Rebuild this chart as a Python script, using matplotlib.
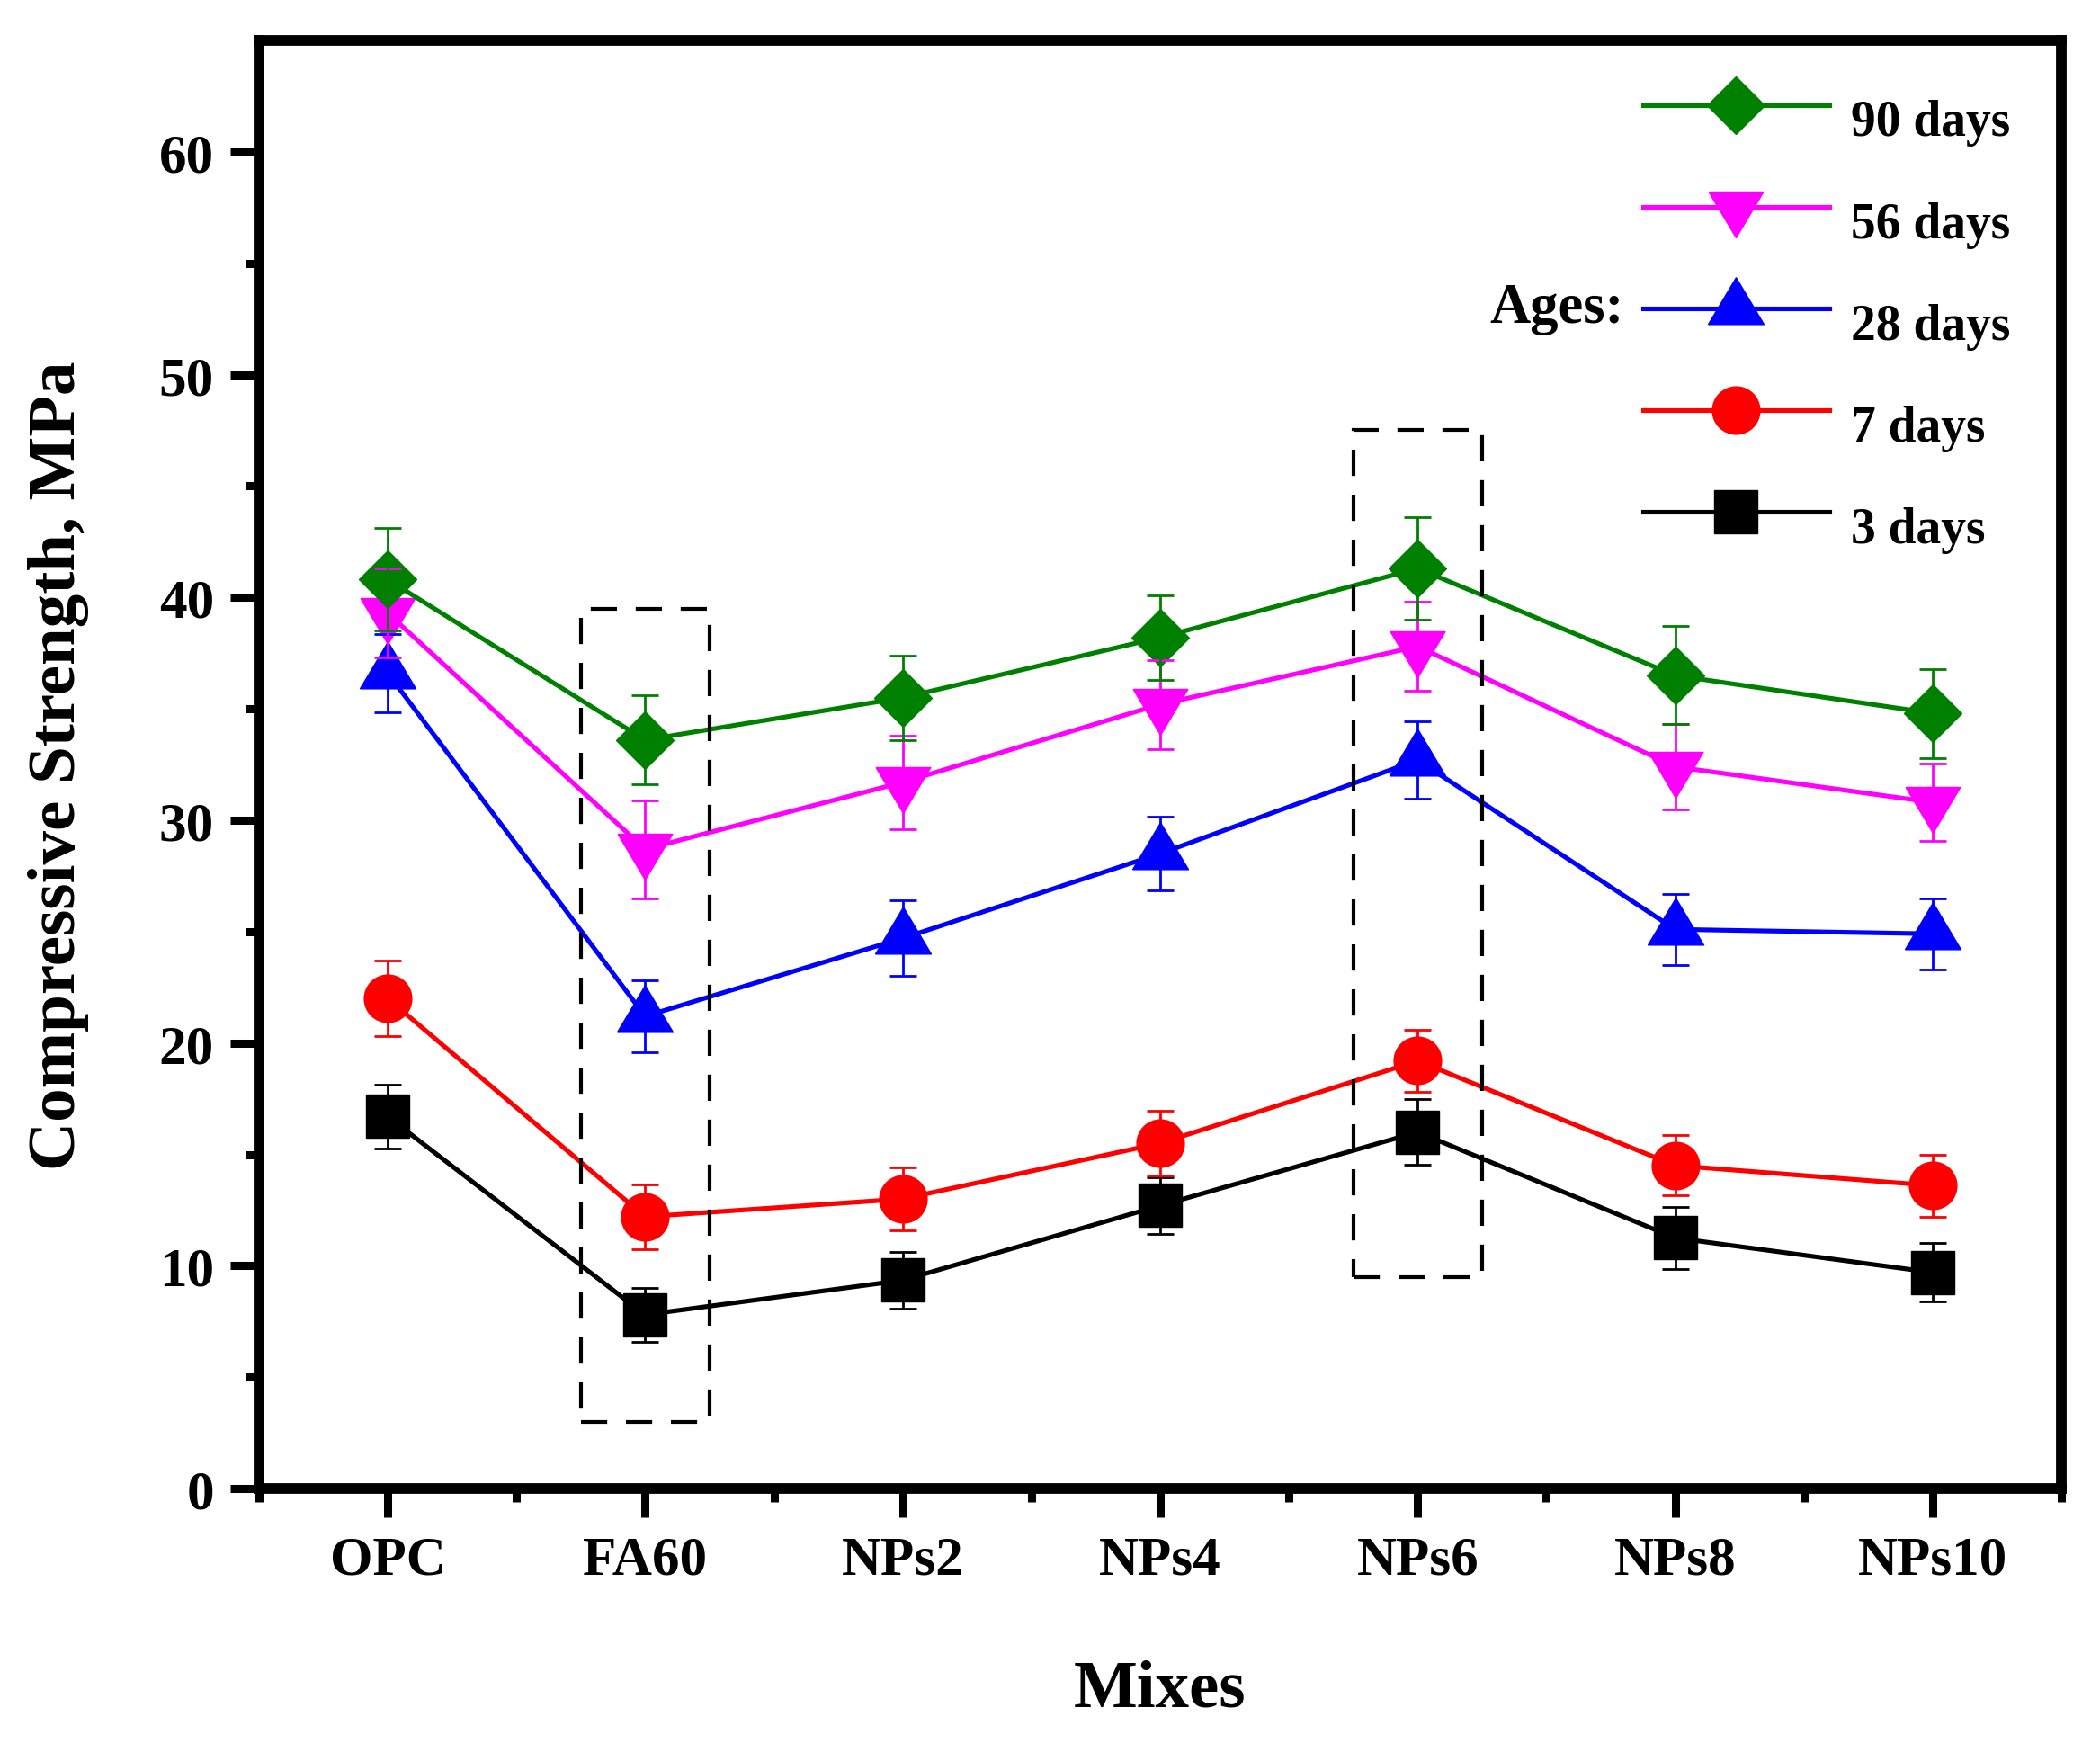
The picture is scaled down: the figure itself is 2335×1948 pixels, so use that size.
import numpy as np
import matplotlib
matplotlib.use("Agg")
import matplotlib.pyplot as plt
from matplotlib.patches import Rectangle
from matplotlib.ticker import FixedLocator

# ---------------- data ----------------
mixes = ['OPC', 'FA60', 'NPs2', 'NPs4', 'NPs6', 'NPs8', 'NPs10']
ages = ['90 days', '56 days', '28 days', '7 days', '3 days']

d90 = [40.8, 33.6, 35.5, 38.2, 41.3, 36.5, 34.8]
e90 = [2.3, 2.0, 1.9, 1.9, 2.3, 2.2, 2.0]
d56 = [39.3, 28.7, 31.7, 35.2, 37.8, 32.4, 30.8]
e56 = [2.0, 2.2, 2.1, 2.0, 2.0, 1.9, 1.75]
d28 = [36.6, 21.2, 24.7, 28.5, 32.7, 25.1, 24.9]
e28 = [1.75, 1.6, 1.7, 1.65, 1.75, 1.6, 1.6]
d7 = [22.0, 12.2, 13.0, 15.5, 19.2, 14.5, 13.6]
e7 = [1.7, 1.45, 1.4, 1.45, 1.4, 1.35, 1.4]
d3 = [16.7, 7.8, 9.35, 12.7, 16.0, 11.25, 9.7]
e3 = [1.43, 1.2, 1.27, 1.27, 1.47, 1.4, 1.32]

# highlighted mixes (dashed boxes): mix index, lower and upper strength
highlight_mix = [1, 4]
highlight_low = [3.0, 9.5]
highlight_high = [39.5, 47.5]

# ---------------- style ----------------
FONT = 'Liberation Serif'
plt.rcParams['font.family'] = [FONT, 'DejaVu Serif']
plt.rcParams['font.weight'] = 'bold'

h = 1.68
tri_down = [(-1, h / 3), (1, h / 3), (0, -2 * h / 3), (-1, h / 3)]
tri_up = [(-1, -h / 3), (1, -h / 3), (0, 2 * h / 3), (-1, -h / 3)]

series = [
    (d3, e3, '3 days', 'black', 's', 35),
    (d7, e7, '7 days', '#ff0000', 'o', 38),
    (d28, e28, '28 days', '#0000ff', tri_up, 50),
    (d56, e56, '56 days', '#ff00ff', tri_down, 49),
    (d90, e90, '90 days', '#008000', 'D', 33),
]

fig = plt.figure(figsize=(23.35, 19.49), dpi=100)
ax = fig.add_axes([0.1233, 0.1503, 0.8583, 0.8261])

x = np.arange(len(mixes))
handles = {}
for i, (vals, errs, lab, col, mk, ms) in enumerate(series):
    ln, = ax.plot(x, vals, color=col, lw=3.7, marker=mk, ms=ms, mfc=col,
                  mec=col, mew=1, zorder=2 + i * 0.1, label=lab)
    handles[lab] = ln
for i, (vals, errs, lab, col, mk, ms) in enumerate(series):
    ax.errorbar(x, vals, yerr=errs, fmt='none', ecolor=col, elinewidth=2.0,
                capsize=11, capthick=2.0, zorder=4 + i * 0.1)

for mi, lo, hi in zip(highlight_mix, highlight_low, highlight_high):
    ax.add_patch(Rectangle((x[mi] - 0.25, lo), 0.5, hi - lo, fill=False,
                           ec='black', lw=3.0, ls=(0, (7, 5)), zorder=6))

ax.set_xlim(-0.5, 6.5)
ax.set_ylim(0, 65)
ax.set_xticks(x)
ax.set_xticklabels(mixes)
ax.xaxis.set_minor_locator(FixedLocator(np.arange(-0.5, 6.6, 1.0)))
ax.yaxis.set_major_locator(FixedLocator(np.arange(0, 61, 10)))
ax.yaxis.set_minor_locator(FixedLocator(np.arange(5, 61, 10)))

for sp in ax.spines.values():
    sp.set_linewidth(8.5)
ax.tick_params(axis='both', which='major', direction='out', length=23,
               width=6.5, labelsize=44, top=False, right=False)
ax.tick_params(axis='both', which='minor', direction='out', length=11,
               width=6.5, top=False, right=False)
ax.tick_params(axis='y', which='major', pad=13)
ax.tick_params(axis='x', which='major', pad=14)
for t in ax.get_xticklabels() + ax.get_yticklabels():
    t.set_fontweight('bold')
    t.set_family(FONT)

ax.set_xlabel('Mixes', fontsize=54, fontweight='bold', family=FONT, va='center')
ax.set_ylabel('Compressive Strength, MPa', fontsize=54, fontweight='bold',
              family=FONT, va='center')
ax.xaxis.set_label_coords(0.5, -0.1385)
ax.yaxis.set_label_coords(-0.1110, 0.5)

leg_order = ['90 days', '56 days', '28 days', '7 days', '3 days']
leg = ax.legend([handles[k] for k in leg_order], leg_order,
                loc='upper left', bbox_to_anchor=(0.7824, 0.9500),
                bbox_transform=fig.transFigure, frameon=False,
                borderpad=0, borderaxespad=0, handlelength=3.72,
                handletextpad=0.44, labelspacing=1.10,
                prop=dict(family=FONT, weight='bold', size=40))
for t in leg.get_texts():
    t.set_verticalalignment('center')

ax.text(0.7575, 0.8056, 'Ages:', transform=ax.transAxes, ha='right',
        va='baseline', fontsize=45, fontweight='bold', family=FONT)

fig.savefig('out.png', dpi=100)
